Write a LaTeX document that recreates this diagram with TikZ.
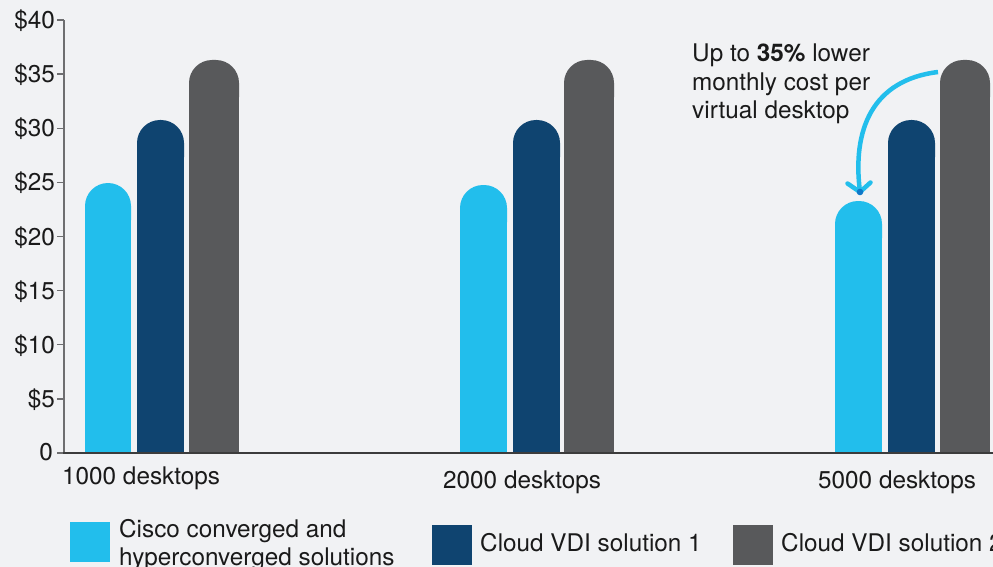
\documentclass[tikz,border=0pt]{standalone}
\usepackage{fontspec}
\setmainfont{TeX Gyre Heros}
\definecolor{bg}{HTML}{F1F2F4}
\definecolor{sky}{HTML}{22BEEC}
\definecolor{navy}{HTML}{0F4470}
\definecolor{slate}{HTML}{58595B}
\definecolor{txt}{HTML}{1A1A1A}
\definecolor{axisc}{HTML}{6E6E70}
\definecolor{tipdot}{HTML}{0F78C8}
\newcommand{\capbar}[4]{% color, x1, x2, top
  \fill[#1, rounded corners=23pt] (#2,#4) rectangle (#3,{#4+60});
  \fill[#1] (#2,{#4+30}) rectangle (#3,453);}
\begin{document}
\begin{tikzpicture}[x=1pt,y=-1pt,
  lbl/.style={inner sep=0pt, font=\fontsize{24.3}{28}\selectfont, text=txt},
  ylbl/.style={lbl, anchor=base east},
  keybox/.style={minimum width=40pt, minimum height=40pt, inner sep=0pt, anchor=north west}]
\useasboundingbox (0,0) rectangle (993,567);
\clip (0,0) rectangle (993,567);
\fill[bg] (0,0) rectangle (993,567);

% bars
\capbar{sky}{85}{131}{183}
\capbar{navy}{137}{184}{120}
\capbar{slate}{189}{239}{60}
\capbar{sky}{460}{507}{185}
\capbar{navy}{513}{560}{120}
\capbar{slate}{564}{614}{60}
\capbar{sky}{835}{882}{201}
\capbar{navy}{888}{935}{120}
\capbar{slate}{940}{990}{60}

% axes
\draw[axisc, line width=1.5pt] (64,453) -- (64,20);
\foreach \yy in {20,74.1,128.25,182.4,236.5,290.6,344.75,398.9,453}
  \draw[axisc, line width=1.2pt] (57,\yy) -- (64,\yy);
\draw[txt!85, line width=1.5pt] (63,453) -- (993,453);

% y labels
\node[ylbl] (y40) at (55,28.5) {\$40};
\node[ylbl] (y35) at (55,82.6) {\$35};
\node[ylbl] (y30) at (55,136.8) {\$30};
\node[ylbl] (y25) at (55,190.9) {\$25};
\node[ylbl] (y20) at (55,245) {\$20};
\node[ylbl] (y15) at (55,299.1) {\$15};
\node[ylbl] (y10) at (55,353.2) {\$10};
\node[ylbl] (y5) at (55,407.4) {\$5};
\node[ylbl] (y0) at (53,460.5) {0};

% category labels
\node[lbl, anchor=base west] (c1) at (62,484) {1000 desktops};
\node[lbl, anchor=base west] (c2) at (443,488) {2000 desktops};
\node[lbl, anchor=base west] (c3) at (818,488) {5000 desktops};

% annotation
\node[lbl, anchor=base west] (n1) at (692,62) {Up to \textbf{35\%} lower};
\node[lbl, anchor=base west] (n2) at (692,90.5) {monthly cost per};
\node[lbl, anchor=base west] (n3) at (692,119) {virtual desktop};
\coordinate (astart) at (938,72);
\coordinate (atip) at (860,192);
\draw[sky, line width=4.5pt] (astart) .. controls (872,80) and (852,130) .. (atip);
\draw[sky, line width=4.5pt, line cap=round, line join=round] (847.5,183.5) -- (atip) -- (870.5,182.5);
\fill[tipdot] (atip) circle (3.3pt);

% legend
\node[keybox, fill=sky] (k1) at (70,522) {};
\node[lbl, anchor=base west] (l1a) at (119,537) {Cisco converged and};
\node[lbl, anchor=base west] (l1b) at (119,565) {hyperconverged solutions};
\node[keybox, fill=navy] (k2) at (432,525) {};
\node[lbl, anchor=base west] (l2) at (480,551) {Cloud VDI solution 1};
\node[keybox, fill=slate] (k3) at (733,525) {};
\node[lbl, anchor=base west] (l3) at (781,551) {Cloud VDI solution 2};
\end{tikzpicture}
\end{document}
